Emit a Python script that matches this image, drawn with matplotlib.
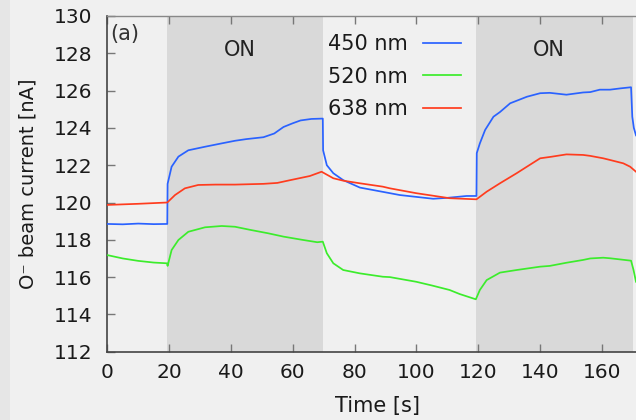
import matplotlib
matplotlib.use("Agg")
import matplotlib.pyplot as plt
from matplotlib.patches import Rectangle

# ---- data ----
t_blue = [0, 5, 10, 15, 19.4, 19.5, 20.8, 23, 26.2, 31.6, 37, 41.3, 45, 50.5, 54, 57, 60, 62.5, 66, 69.7,
          69.8, 71, 73.1, 76.3, 81.7, 91.4, 94.6, 100, 105.4, 110, 116.2, 119.4,
          119.5, 120.5, 122.2, 124.9, 127, 130.3, 135.7, 140, 143.1, 148.5, 153.9, 156.2, 159.3, 162.6, 166, 169.4,
          169.8, 170.3, 171]
v_blue = [118.85, 118.83, 118.87, 118.84, 118.85, 121.0, 121.92, 122.46, 122.8, 122.99, 123.17, 123.31, 123.4, 123.5, 123.7, 124.05, 124.25, 124.4, 124.48, 124.5,
          122.8, 122.0, 121.57, 121.2, 120.8, 120.5, 120.4, 120.3, 120.2, 120.25, 120.35, 120.35,
          122.65, 123.17, 123.89, 124.6, 124.85, 125.32, 125.67, 125.86, 125.88, 125.78, 125.9, 125.92, 126.05, 126.05, 126.12, 126.18,
          124.6, 124.0, 123.6]

t_green = [0, 5, 10, 15, 19.3, 19.5, 20.8, 23, 26.2, 31.6, 37, 41.3, 46.3, 52, 57, 63, 67.9, 69.7,
           71, 73.1, 76.3, 81.7, 89.1, 91.4, 99.9, 105, 110.7, 114, 119.2,
           120.5, 122.7, 127, 132.4, 140, 143.1, 148.5, 153.9, 156.2, 160.4, 162.6, 169.4, 170.2, 171]
v_green = [117.18, 117.0, 116.87, 116.78, 116.74, 116.6, 117.45, 117.99, 118.43, 118.67, 118.74, 118.7, 118.53, 118.35, 118.17, 118.0, 117.87, 117.9,
           117.28, 116.74, 116.38, 116.2, 116.02, 116.0, 115.75, 115.55, 115.31, 115.09, 114.81,
           115.31, 115.84, 116.24, 116.38, 116.56, 116.6, 116.77, 116.92, 117.0, 117.04, 117.01, 116.88, 116.38, 115.75]

t_red = [0, 10, 19.4, 21.9, 25.1, 29.4, 35, 41.3, 50.5, 55, 59.2, 65.5, 69.3,
         73.1, 76.3, 81.7, 89.1, 91.4, 99.9, 110.7, 119.4,
         122.7, 127, 132.4, 136, 140, 143.5, 148.5, 153.9, 156.2, 160.4, 162.6, 166.9, 169.1, 171]
v_red = [119.87, 119.93, 120.0, 120.4, 120.76, 120.94, 120.96, 120.96, 121.0, 121.05, 121.2, 121.42, 121.65,
         121.3, 121.17, 121.03, 120.85, 120.76, 120.5, 120.23, 120.17,
         120.58, 121.03, 121.57, 121.95, 122.37, 122.45, 122.58, 122.55, 122.5, 122.37, 122.28, 122.1, 121.92, 121.65]

on_periods = [(19.3, 69.7), (119.1, 169.9)]
series_labels = ["450 nm", "520 nm", "638 nm"]
series_colors = ["#2a62ff", "#3cec2c", "#ff3c1e"]
xticks = [0, 20, 40, 60, 80, 100, 120, 140, 160]
yticks = [112, 114, 116, 118, 120, 122, 124, 126, 128, 130]

# ---- figure ----
plt.rcParams['font.family'] = ['DejaVu Sans']
fig = plt.figure(figsize=(6.36, 4.2), dpi=100, facecolor="#f0f0f0")
fig.patches.append(Rectangle((0, 0), 0.016, 1, transform=fig.transFigure,
                             facecolor="#e6e6e6", edgecolor="none", zorder=0))
ax = fig.add_axes([107.3 / 636, 1 - 351.7 / 420, 1 - 107.3 / 636, (351.7 - 16) / 420])
ax.set_facecolor("#f0f0f0")

for a, b in on_periods:
    ax.axvspan(a, b, color="#d9d9d9", lw=0, zorder=0)

ax.plot(t_blue, v_blue, color=series_colors[0], lw=1.25, label=series_labels[0], zorder=3)
ax.plot(t_green, v_green, color=series_colors[1], lw=1.25, label=series_labels[1], zorder=3)
ax.plot(t_red, v_red, color=series_colors[2], lw=1.25, label=series_labels[2], zorder=3)

ax.set_xlim(0, 171.0)
ax.set_ylim(112, 130)
ax.set_xticks(xticks)
ax.set_yticks(yticks)
ax.tick_params(axis="both", direction="in", length=6, width=1, color="#777777",
               labelsize=14.5, labelcolor="#1a1a1a")
ax.tick_params(axis="y", pad=10.5)
ax.tick_params(axis="x", top=True, pad=8)

for s in ["left", "bottom"]:
    ax.spines[s].set_color("#444444")
    ax.spines[s].set_linewidth(1.2)
ax.spines["top"].set_color("#888888")
ax.spines["top"].set_linewidth(1.0)
ax.spines["right"].set_visible(False)

ax.set_xlabel("Time [s]", fontsize=15, color="#1a1a1a")
ax.set_ylabel("O⁻ beam current [nA]", fontsize=14, color="#1a1a1a")
ax.xaxis.label.set_va("center")
ax.yaxis.label.set_va("center")
ax.xaxis.set_label_coords(0.512, -(406 - 351.7) / 335.7)
ax.yaxis.set_label_coords(-(107.3 - 28) / 528.7, 0.50)

ax.text(0.006, 1 - (34 - 16) / 335.7, "(a)", transform=ax.transAxes, fontsize=15, color="#333333",
        ha="left", va="center")
for a, b in on_periods:
    ax.text((a + b) / 2 - 1.6, 128.18, "ON", fontsize=15, color="#222222", ha="center", va="center")

leg = ax.legend(loc="upper left", bbox_to_anchor=(0.417, 0.945), frameon=False, markerfirst=False,
                fontsize=15, handlelength=1.83, handletextpad=0.75, labelspacing=0.59,
                borderpad=0, borderaxespad=0)
for txt in leg.get_texts():
    txt.set_color("#1a1a1a")

fig.savefig("out.png", dpi=100, facecolor=fig.get_facecolor())
